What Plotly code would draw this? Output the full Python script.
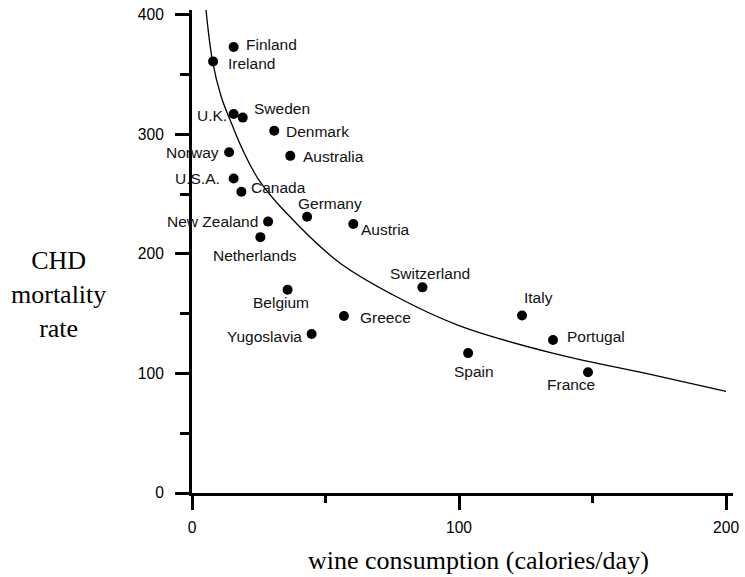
import plotly.graph_objects as go

countries = ["Finland", "Ireland", "U.K.", "Sweden", "Denmark", "Norway", "Australia",
             "U.S.A.", "Canada", "Germany", "New Zealand", "Austria", "Netherlands",
             "Belgium", "Greece", "Yugoslavia", "Switzerland", "Italy", "Portugal",
             "Spain", "France"]
wine = [15.6, 7.9, 15.6, 19.0, 30.8, 13.9, 36.8, 15.6, 18.5, 43.1, 28.5, 60.4, 25.6,
        35.8, 56.9, 44.8, 86.3, 123.6, 135.2, 103.4, 148.3]
chd = [373, 361, 317, 314, 303, 285, 282, 263, 252, 231, 227, 225, 214,
       170, 148, 133, 172, 148.5, 128, 117, 101]

curve_x = [5.2, 7.7, 11, 15, 19, 25, 35, 55, 75, 100, 135, 170, 200]
curve_y = [405, 361, 331, 308, 287, 262, 235, 193, 166, 140, 117, 100, 85]

x_ticks = [0, 100, 200]
y_ticks = [0, 100, 200, 300, 400]

# label placement (pixels): dx, dy (down), anchor
label_pos = {
    "Finland": (10, -3, "left"), "Ireland": (13, 2, "left"), "U.K.": (-5, 1, "right"),
    "Sweden": (9, -9, "left"), "Denmark": (10, 1, "left"), "Norway": (-8, 0, "right"),
    "Australia": (11, 1, "left"), "U.S.A.": (-12, 0, "right"), "Canada": (8, -4, "left"),
    "Germany": (23, -13, "center"), "New Zealand": (-8, 0, "right"),
    "Austria": (6, 5, "left"), "Netherlands": (-5, 18, "center"),
    "Belgium": (-7, 13, "center"), "Greece": (14, 1, "left"),
    "Yugoslavia": (-8, 3, "right"), "Switzerland": (8, -14, "center"),
    "Italy": (16, -18, "center"), "Portugal": (12, -3, "left"),
    "Spain": (6, 18, "center"), "France": (-17, 12, "center"),
}

SANS = "Liberation Sans, Arial, Helvetica, sans-serif"
SERIF = "Liberation Serif, Times New Roman, serif"

fig = go.Figure()
fig.add_trace(go.Scatter(x=curve_x, y=curve_y, mode="lines",
                         line=dict(color="black", width=1.3, shape="spline"),
                         hoverinfo="skip", showlegend=False))
fig.add_trace(go.Scatter(x=wine, y=chd, mode="markers", text=countries,
                         marker=dict(color="black", size=10),
                         showlegend=False))

annotations = []
for name, xv, yv in zip(countries, wine, chd):
    dx, dy, anc = label_pos[name]
    annotations.append(dict(x=xv, y=yv, xref="x", yref="y", text=name,
                            showarrow=False, xanchor=anc, yanchor="middle",
                            xshift=dx, yshift=-dy,
                            font=dict(family=SANS, size=15.5, color="#111")))

annotations.append(dict(x=-0.246, y=0.41, xref="paper", yref="paper",
                        text="CHD<br>mortality<br>rate", showarrow=False,
                        xanchor="center", yanchor="middle", align="center",
                        font=dict(family=SERIF, size=26, color="black")))
annotations.append(dict(x=0.53, y=-0.14, xref="paper", yref="paper",
                        text="wine consumption (calories/day)", showarrow=False,
                        xanchor="center", yanchor="middle",
                        font=dict(family=SERIF, size=26, color="black")))

axis_common = dict(showgrid=False, zeroline=False, showline=True, linecolor="black",
                   linewidth=3, ticks="outside", tickcolor="black", tickwidth=2.5,
                   automargin=False,
                   tickfont=dict(family=SANS, size=15.6, color="black"))

fig.update_layout(
    width=745, height=577,
    margin=dict(l=192, r=12, t=10, b=84),
    plot_bgcolor="white", paper_bgcolor="white",
    annotations=annotations,
    xaxis=dict(range=[0, 202.6], tickvals=x_ticks, ticklen=14,
               minor=dict(dtick=50, tick0=0, ticks="outside", ticklen=7,
                          tickwidth=2.5, tickcolor="black", showgrid=False),
               ticklabelstandoff=4, **axis_common),
    yaxis=dict(range=[0, 404], tickvals=y_ticks, ticklen=14,
               minor=dict(dtick=50, tick0=0, ticks="outside", ticklen=9,
                          tickwidth=2.5, tickcolor="black", showgrid=False),
               ticklabelstandoff=8, **axis_common),
)

fig.write_html("out.html", config={"displayModeBar": False},
               post_script="document.body.style.margin='0';document.body.style.overflow='hidden';")
